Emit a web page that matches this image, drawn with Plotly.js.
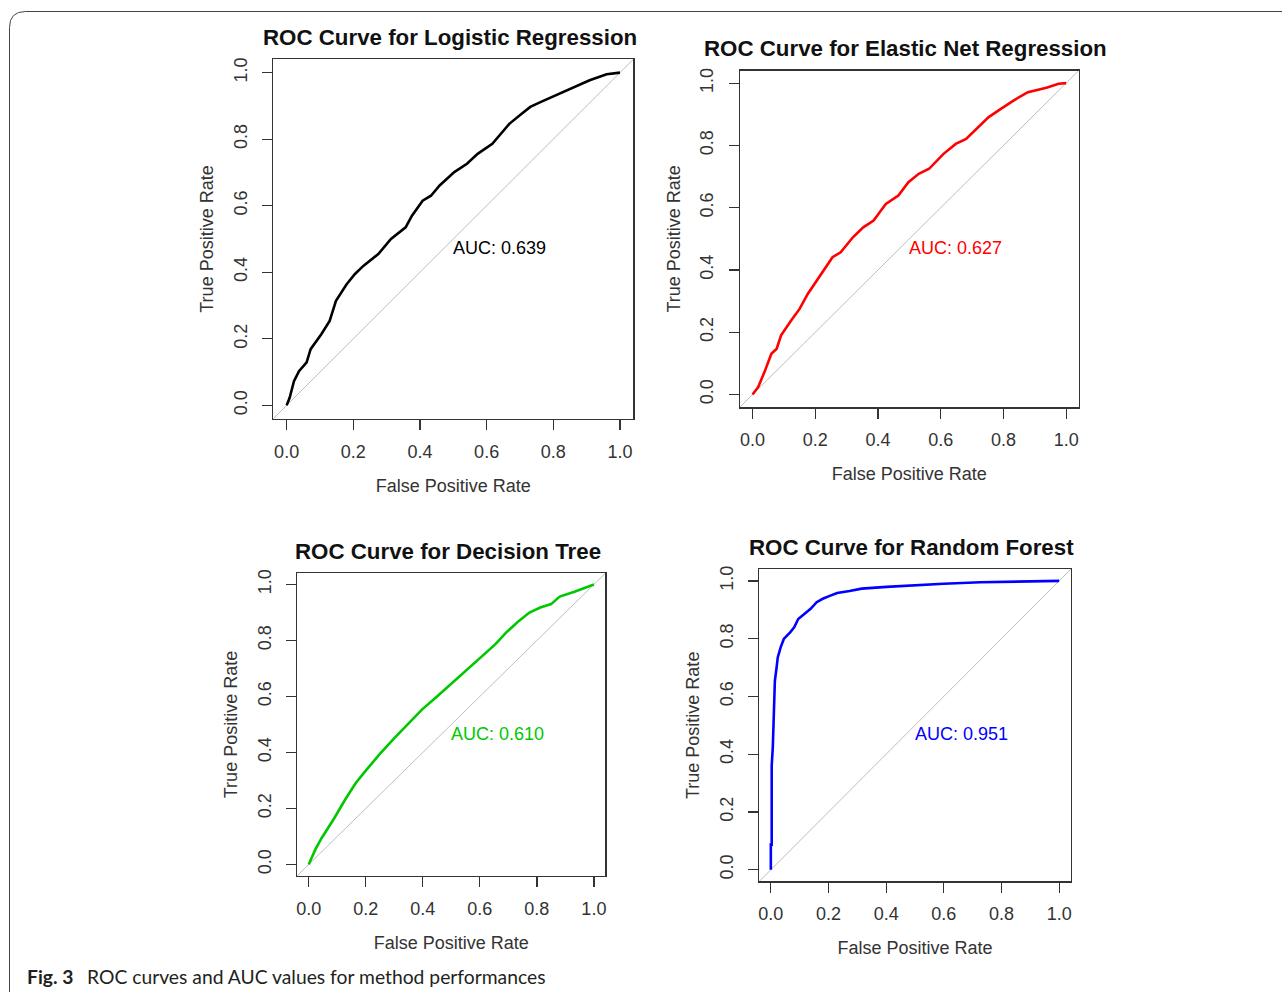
<!DOCTYPE html>
<html>
<head>
<meta charset="utf-8">
<script src="https://cdn.plot.ly/plotly-3.0.1.min.js"></script>
<style>
  html, body { margin: 0; padding: 0; background: #ffffff; }
  #chart { width: 1282px; height: 992px; }
</style>
</head>
<body>
<div id="chart"></div>
<script>
// ---------------- data ----------------
const panelTitles = [
  "ROC Curve for Logistic Regression",
  "ROC Curve for Elastic Net Regression",
  "ROC Curve for Decision Tree",
  "ROC Curve for Random Forest"
];
const aucValues = [0.639, 0.627, 0.610, 0.951];
const tickVals = [0, 0.2, 0.4, 0.6, 0.8, 1.0];
const tickText = ["0.0", "0.2", "0.4", "0.6", "0.8", "1.0"];
const xTitle = "False Positive Rate";
const yTitle = "True Positive Rate";
const captionLabel = "Fig. 3";
const captionText = "ROC curves and AUC values for method performances";

// Logistic Regression
const lrFpr = [0, 0.009, 0.022, 0.037, 0.060, 0.072, 0.104, 0.129, 0.148, 0.180, 0.205, 0.231, 0.275, 0.313, 0.357, 0.376, 0.408, 0.433, 0.459, 0.503, 0.541, 0.573, 0.617, 0.643, 0.668, 0.706, 0.731, 0.763, 0.807, 0.858, 0.909, 0.960, 1.0];
const lrTpr = [0, 0.023, 0.073, 0.103, 0.129, 0.169, 0.214, 0.254, 0.314, 0.364, 0.395, 0.420, 0.455, 0.500, 0.535, 0.570, 0.615, 0.630, 0.661, 0.701, 0.726, 0.756, 0.786, 0.816, 0.846, 0.877, 0.897, 0.912, 0.932, 0.955, 0.977, 0.995, 1.0];

// Elastic Net Regression
const enFpr = [0, 0.018, 0.038, 0.060, 0.077, 0.091, 0.123, 0.150, 0.176, 0.209, 0.241, 0.255, 0.281, 0.320, 0.353, 0.386, 0.406, 0.425, 0.465, 0.497, 0.530, 0.563, 0.609, 0.648, 0.681, 0.714, 0.753, 0.793, 0.832, 0.878, 0.937, 0.976, 1.0];
const enTpr = [0, 0.024, 0.072, 0.131, 0.147, 0.190, 0.238, 0.275, 0.323, 0.372, 0.420, 0.441, 0.457, 0.505, 0.537, 0.559, 0.586, 0.612, 0.639, 0.682, 0.709, 0.725, 0.773, 0.805, 0.821, 0.853, 0.891, 0.918, 0.944, 0.971, 0.985, 0.998, 1.0];

// Decision Tree
const dtFpr = [0, 0.023, 0.045, 0.090, 0.128, 0.165, 0.203, 0.248, 0.301, 0.353, 0.398, 0.444, 0.496, 0.556, 0.609, 0.654, 0.692, 0.737, 0.774, 0.812, 0.850, 0.880, 0.932, 1.0];
const dtTpr = [0, 0.053, 0.094, 0.166, 0.232, 0.291, 0.339, 0.393, 0.452, 0.506, 0.554, 0.595, 0.643, 0.697, 0.745, 0.786, 0.828, 0.870, 0.900, 0.918, 0.930, 0.957, 0.974, 1.0];

// Random Forest
const rfFpr = [0, 0, 0.003, 0.003, 0.007, 0.010, 0.014, 0.020, 0.024, 0.034, 0.045, 0.067, 0.081, 0.095, 0.116, 0.138, 0.159, 0.180, 0.202, 0.230, 0.273, 0.315, 0.401, 0.486, 0.599, 0.727, 0.926, 1.0];
const rfTpr = [0, 0.087, 0.087, 0.359, 0.428, 0.561, 0.654, 0.700, 0.735, 0.770, 0.799, 0.822, 0.839, 0.868, 0.885, 0.903, 0.926, 0.938, 0.947, 0.958, 0.965, 0.973, 0.979, 0.984, 0.990, 0.995, 0.998, 1.0];

const curveColors = ["#000000", "#ff0000", "#00c800", "#0000ff"];

// ---------------- layout geometry (pixels) ----------------
const W = 1282, H = 992;
const boxes = [ // [left, right, top, bottom] in px
  [273.3, 633.3, 59.3, 418.7],
  [740.0, 1078.7, 70.7, 407.0],
  [297.3, 605.3, 573.3, 875.7],
  [759.3, 1070.7, 569.3, 881.3]
];
const px = v => v / W;
const py = v => 1 - v / H;

const fprs = [lrFpr, enFpr, dtFpr, rfFpr];
const tprs = [lrTpr, enTpr, dtTpr, rfTpr];

const FONT = "Liberation Sans, Arial, sans-serif";
const traces = [];
const layout = {
  width: W, height: H,
  margin: {l: 0, r: 0, t: 0, b: 0},
  paper_bgcolor: "#ffffff",
  plot_bgcolor: "#ffffff",
  showlegend: false,
  font: {family: FONT, color: "#333333", size: 18},
  annotations: [],
  shapes: []
};

for (let i = 0; i < 4; i++) {
  const sfx = i === 0 ? "" : String(i + 1);
  const xa = "x" + sfx, ya = "y" + sfx;
  const b = boxes[i];
  traces.push({
    type: "scatter", mode: "lines",
    x: fprs[i], y: tprs[i],
    xaxis: xa, yaxis: ya,
    line: {color: curveColors[i], width: 2.6},
    hoverinfo: "x+y"
  });
  const common = {
    range: [-0.04, 1.04],
    tickvals: tickVals, ticktext: tickText,
    showgrid: false, zeroline: false,
    showline: true, mirror: true, linecolor: "#333333", linewidth: 1.5,
    ticks: "outside", ticklen: 10, tickwidth: 1.3, tickcolor: "#333333",
    tickfont: {family: FONT, size: 18, color: "#333333"},
    fixedrange: true,
    automargin: false
  };
  layout["xaxis" + sfx] = Object.assign({}, common, {
    domain: [px(b[0]), px(b[1])],
    anchor: ya,
    ticklabelstandoff: 6,
    title: {text: xTitle, font: {family: FONT, size: 18, color: "#333333"}, standoff: 18}
  });
  layout["yaxis" + sfx] = Object.assign({}, common, {
    domain: [py(b[3]), py(b[2])],
    anchor: xa,
    tickangle: -90,
    ticklabelstandoff: 8,
    title: {text: yTitle, font: {family: FONT, size: 18, color: "#333333"}, standoff: 12}
  });
  // diagonal reference line
  layout.shapes.push({
    type: "line", layer: "below",
    xref: xa + " domain", yref: ya + " domain",
    x0: 0, y0: 0, x1: 1, y1: 1,
    line: {color: "#bebebe", width: 1}
  });
  // panel title
  layout.annotations.push({
    xref: xa + " domain", yref: ya + " domain",
    x: 0.49, y: 1, xanchor: "center", yanchor: "middle", yshift: 22,
    text: panelTitles[i], showarrow: false,
    font: {family: FONT, size: 22.3, color: "#111111", weight: "bold"}
  });
  // AUC label
  layout.annotations.push({
    xref: xa, yref: ya,
    x: 0.5, y: 0.5, xanchor: "left", yanchor: "top", xshift: -2, yshift: 3,
    text: "AUC: " + aucValues[i].toFixed(3), showarrow: false,
    font: {family: FONT, size: 18, color: curveColors[i]}
  });
}

// caption
layout.annotations.push({
  xref: "paper", yref: "paper", x: px(25), y: py(976),
  xanchor: "left", yanchor: "middle",
  text: "<b>" + captionLabel + "</b>", showarrow: false,
  font: {family: "Lato, Noto Sans, sans-serif", size: 19.3, color: "#231f20"}
});
layout.annotations.push({
  xref: "paper", yref: "paper", x: px(85), y: py(976),
  xanchor: "left", yanchor: "middle",
  text: captionText, showarrow: false,
  font: {family: "Lato, Noto Sans, sans-serif", size: 19.3, color: "#231f20"}
});

// rounded frame around the figure
const fl = 9.5, ft = 11.5, fr = 16;
layout.shapes.push({
  type: "path", xref: "paper", yref: "paper", layer: "below",
  path: "M " + px(fl) + "," + py(H + 5) + " L " + px(fl) + "," + py(ft + fr) +
        " Q " + px(fl) + "," + py(ft) + " " + px(fl + fr) + "," + py(ft) +
        " L " + px(W + 5) + "," + py(ft),
  line: {color: "#444444", width: 1}
});

Plotly.newPlot("chart", traces, layout, {displayModeBar: false, staticPlot: true});
</script>
</body>
</html>
